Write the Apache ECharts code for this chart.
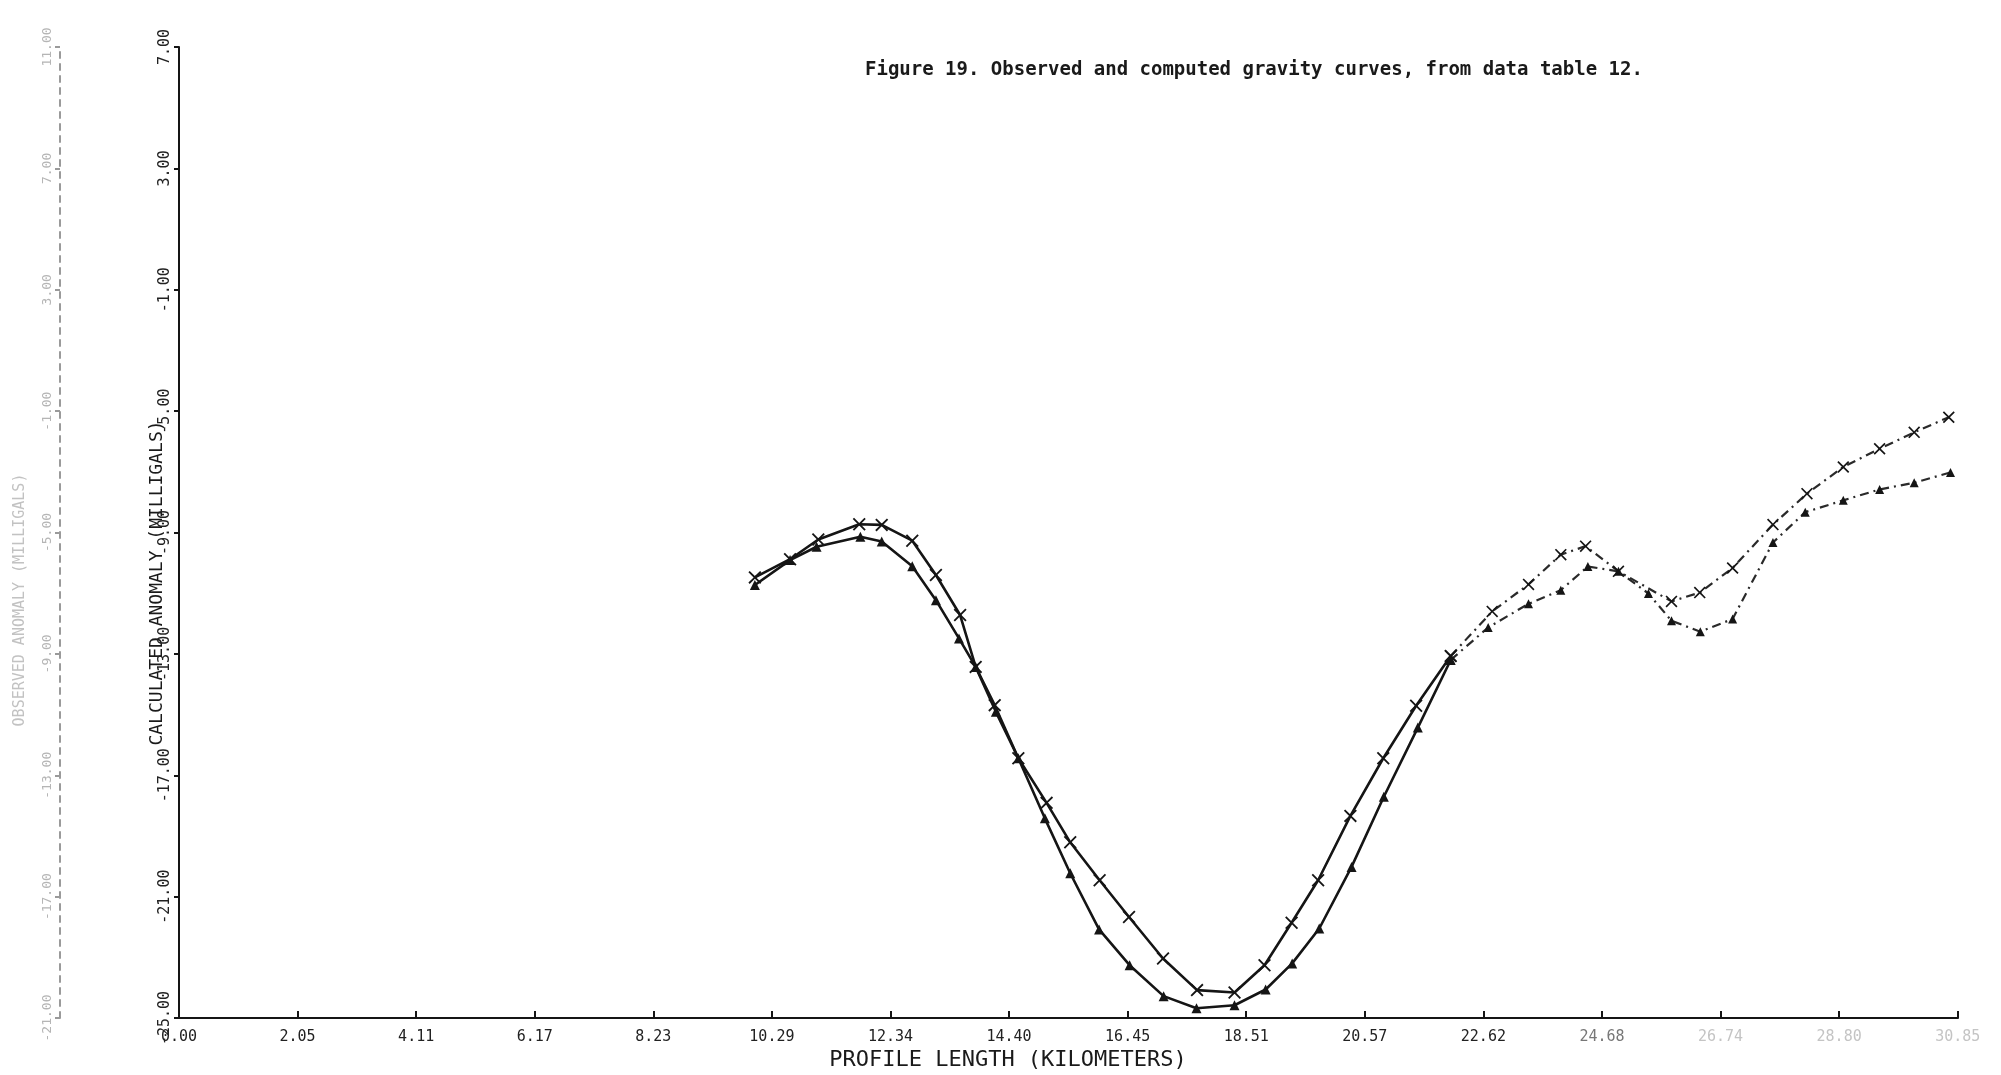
<!DOCTYPE html>
<html>
<head>
<meta charset="utf-8">
<script src="https://cdn.jsdelivr.net/npm/echarts@6/dist/echarts.min.js"></script>
<style>
  html, body { margin: 0; padding: 0; background: #fff; }
  #chart { width: 2001px; height: 1075px; }
</style>
</head>
<body>
<div id="chart"></div>
<script>
// profile positions (km) and anomaly values (mGal)
const xCross = [9.99, 10.60, 11.09, 11.80, 12.19, 12.72, 13.13, 13.55, 13.82, 14.15, 14.56, 15.05, 15.46, 15.97, 16.48, 17.07, 17.66, 18.31, 18.83, 19.30, 19.76, 20.32, 20.89, 21.46, 22.06, 22.78, 23.41, 23.97, 24.40, 24.97, 25.89, 26.38, 26.95, 27.65, 28.24, 28.87, 29.50, 30.10, 30.70]
const yCross = [-10.48, -9.88, -9.23, -8.73, -8.75, -9.27, -10.40, -11.72, -13.43, -14.69, -16.44, -17.91, -19.21, -20.46, -21.67, -23.04, -24.08, -24.16, -23.26, -21.86, -20.46, -18.34, -16.44, -14.71, -13.07, -11.60, -10.71, -9.73, -9.45, -10.28, -11.27, -10.98, -10.17, -8.74, -7.72, -6.84, -6.24, -5.70, -5.20]

const xTri = [9.99, 10.60, 11.06, 11.82, 12.19, 12.72, 13.13, 13.53, 13.82, 14.17, 14.56, 15.02, 15.46, 15.96, 16.49, 17.08, 17.65, 18.31, 18.85, 19.31, 19.78, 20.34, 20.90, 21.49, 22.06, 22.71, 23.41, 23.97, 24.44, 24.97, 25.49, 25.89, 26.39, 26.95, 27.65, 28.21, 28.87, 29.50, 30.10, 30.73]
const yTri = [-10.73, -9.91, -9.47, -9.14, -9.30, -10.11, -11.23, -12.49, -13.43, -14.91, -16.44, -18.42, -20.23, -22.08, -23.26, -24.28, -24.68, -24.58, -24.06, -23.20, -22.05, -20.02, -17.71, -15.43, -13.20, -12.13, -11.35, -10.90, -10.12, -10.28, -11.01, -11.91, -12.27, -11.85, -9.33, -8.33, -7.94, -7.58, -7.36, -7.02]

const xTickLabels = ['0.00', '2.05', '4.11', '6.17', '8.23', '10.29', '12.34', '14.40', '16.45', '18.51', '20.57', '22.62', '24.68', '26.74', '28.80', '30.85']
const xStep = 2.057
// the print fades out right of this position
const fadeFrom = 22.06

const ink = '#151515'
const crossSymbol = 'path://M0,1L1,0L5,4L9,0L10,1L6,5L10,9L9,10L5,6L1,10L0,9L4,5Z'

const pairs = (xs, ys) => xs.map((x, i) => [x, ys[i]])
const solidPart = (xs, ys) => pairs(xs, ys).filter(p => p[0] <= fadeFrom)
const fadedPart = (xs, ys) => pairs(xs, ys).filter(p => p[0] >= fadeFrom)

const makeSeries = (name, data, symbol, size, dashed) => ({
  name,
  type: 'line',
  data,
  symbol,
  symbolSize: size,
  showSymbol: true,
  lineStyle: { color: dashed ? '#2a2a2a' : ink, width: dashed ? 2.2 : 2.6, type: dashed ? [9, 5, 2, 5] : 'solid' },
  itemStyle: { color: ink },
  animation: false,
  z: 3
})

const chart = echarts.init(document.getElementById('chart'))

const option = {
  backgroundColor: '#fff',
  animation: false,
  title: {
    text: 'Figure 19. Observed and computed gravity curves, from data table 12.',
    left: 860,
    top: 56,
    textStyle: { fontFamily: 'DejaVu Sans Mono', fontWeight: 'bold', fontSize: 19, color: '#1a1a1a' }
  },
  grid: { left: 179, right: 43, top: 47, bottom: 57, containLabel: false },
  xAxis: {
    type: 'value',
    min: 0,
    max: 30.86,
    interval: xStep,
    axisLine: { onZero: false, lineStyle: { color: ink, width: 2 } },
    axisTick: { inside: true, length: 7, lineStyle: { color: ink, width: 2 } },
    splitLine: { show: false },
    axisLabel: {
      margin: 12,
      fontFamily: 'DejaVu Sans Mono',
      fontSize: 15,
      color: (v, i) => (i >= 13 ? '#c4c4c4' : i === 12 ? '#777' : '#222'),
      formatter: v => xTickLabels[Math.round(v / xStep)] || ''
    }
  },
  yAxis: [
    {
      type: 'value',
      min: -25,
      max: 7,
      interval: 4,
      axisLine: { onZero: false, lineStyle: { color: ink, width: 2 } },
      axisTick: { inside: false, length: 5, lineStyle: { color: ink, width: 2 } },
      splitLine: { show: false },
      axisLabel: {
        rotate: 90,
        margin: 6,
        fontFamily: 'DejaVu Sans Mono',
        fontSize: 15,
        color: '#222',
        formatter: v => v.toFixed(2)
      }
    },
    {
      // faint bleed-through axis from the facing page
      type: 'value',
      position: 'left',
      offset: 119,
      min: -21,
      max: 11,
      interval: 4,
      axisLine: { show: true, onZero: false, lineStyle: { color: '#9a9a9a', width: 2, type: [6, 6] } },
      axisTick: { show: true, length: 5, lineStyle: { color: '#9a9a9a', width: 2 } },
      splitLine: { show: false },
      axisLabel: {
        rotate: 90,
        margin: 6,
        fontFamily: 'DejaVu Sans Mono',
        fontSize: 13,
        color: '#b5b5b5',
        formatter: v => v.toFixed(2)
      }
    }
  ],
  graphic: [
    {
      type: 'text',
      x: 1008,
      y: 1060,
      style: {
        text: 'PROFILE LENGTH (KILOMETERS)',
        fontFamily: 'DejaVu Sans Mono',
        fontSize: 22,
        fill: '#1a1a1a',
        textAlign: 'center',
        textVerticalAlign: 'middle'
      }
    },
    {
      type: 'text',
      x: 157,
      y: 583,
      rotation: Math.PI / 2,
      style: {
        text: 'CALCULATED ANOMALY (MILLIGALS)',
        fontFamily: 'DejaVu Sans Mono',
        fontSize: 18,
        fill: '#1a1a1a',
        textAlign: 'center',
        textVerticalAlign: 'middle'
      }
    },
    {
      type: 'text',
      x: 20,
      y: 600,
      rotation: Math.PI / 2,
      style: {
        text: 'OBSERVED ANOMALY (MILLIGALS)',
        fontFamily: 'DejaVu Sans Mono',
        fontSize: 15,
        fill: '#c2c2c2',
        textAlign: 'center',
        textVerticalAlign: 'middle'
      }
    }
  ],
  series: [
    makeSeries('Observed', solidPart(xCross, yCross), crossSymbol, 13, false),
    makeSeries('Observed', fadedPart(xCross, yCross), crossSymbol, 12, true),
    makeSeries('Computed', solidPart(xTri, yTri), 'triangle', 10, false),
    makeSeries('Computed', fadedPart(xTri, yTri), 'triangle', 9, true)
  ]
}

chart.setOption(option)
window.addEventListener('resize', () => chart.resize())
</script>
</body>
</html>
